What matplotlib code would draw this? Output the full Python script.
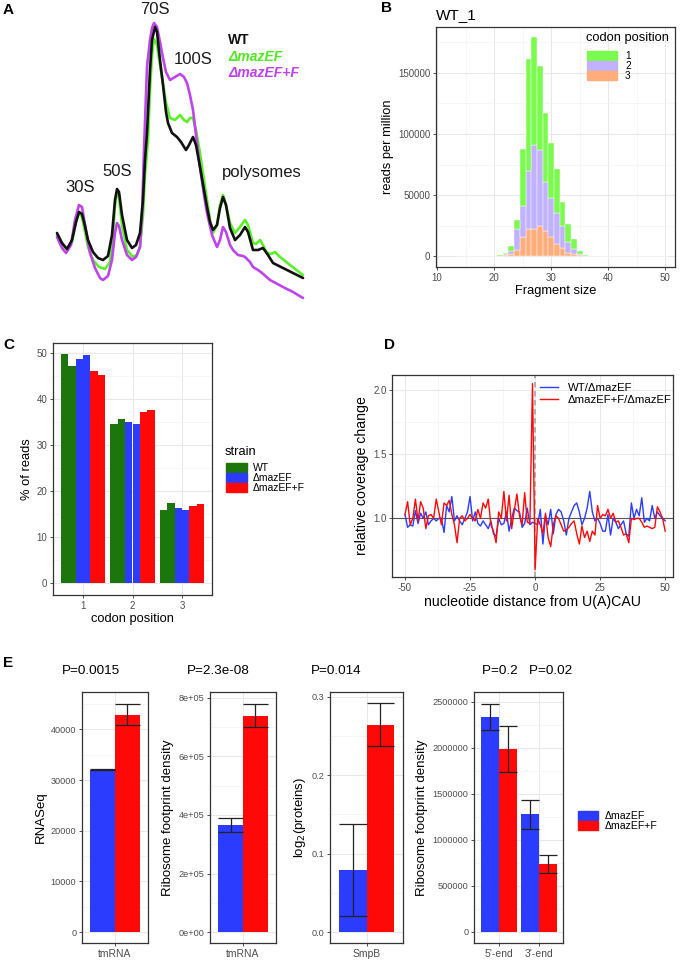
import numpy as np
import matplotlib
matplotlib.use('Agg')
import matplotlib.pyplot as plt
from matplotlib.patches import Patch
from matplotlib.lines import Line2D
from matplotlib.ticker import MultipleLocator, FormatStrFormatter, FuncFormatter

plt.rcParams['font.family'] = ['Liberation Sans', 'DejaVu Sans']
plt.rcParams['axes.unicode_minus'] = False

# ---------------- data ----------------
# A: sucrose gradient profiles (position along gradient, absorbance), traced
wt_pos = [57, 62, 67, 72, 76, 79, 82, 85, 88, 93, 98, 103, 108, 112, 115, 117, 119, 122, 127, 132, 136, 140, 143, 145, 147, 150, 152, 155, 157, 160, 163, 166, 168, 172, 177, 181, 186, 189, 193, 196, 200, 204, 207, 210, 213, 217, 220, 223, 226, 230, 235, 240, 245, 248, 253, 258, 263, 268, 273, 283, 293, 303]
wt_abs = [233, 243, 249, 240, 222, 212, 214, 226, 240, 252, 258, 260, 256, 235, 200, 189, 192, 215, 240, 248, 245, 233, 200, 160, 133, 70, 40, 27, 32, 60, 85, 112, 123, 133, 137, 142, 150, 145, 137, 145, 167, 190, 207, 222, 230, 225, 208, 197, 205, 228, 240, 235, 227, 232, 250, 250, 248, 255, 263, 268, 273, 278]
dm_pos = [57, 62, 67, 72, 76, 79, 82, 85, 88, 93, 99, 105, 110, 113, 115, 117, 119, 122, 127, 133, 137, 140, 143, 145, 148, 150, 152, 154, 157, 160, 163, 166, 170, 175, 180, 184, 187, 190, 193, 196, 200, 204, 207, 210, 213, 217, 220, 223, 226, 230, 235, 240, 245, 248, 253, 256, 260, 263, 267, 271, 275, 280, 290, 303]
dm_abs = [235, 245, 249, 242, 222, 213, 217, 232, 247, 260, 267, 269, 262, 235, 205, 193, 197, 225, 250, 257, 255, 247, 215, 175, 140, 90, 55, 39, 45, 65, 83, 103, 118, 120, 115, 120, 122, 118, 118, 130, 153, 180, 200, 220, 233, 225, 205, 195, 205, 223, 233, 227, 220, 225, 243, 244, 240, 245, 253, 254, 252, 257, 265, 275]
df_pos = [57, 62, 66, 71, 75, 79, 82, 85, 90, 95, 100, 103, 108, 112, 115, 117, 119, 122, 127, 132, 136, 140, 142, 144, 147, 150, 152, 154, 157, 160, 163, 166, 170, 175, 180, 184, 187, 190, 193, 196, 200, 204, 207, 212, 217, 220, 223, 226, 230, 233, 238, 243, 245, 250, 253, 258, 262, 270, 283, 293, 303]
df_abs = [237, 248, 253, 245, 220, 205, 207, 225, 253, 268, 278, 280, 276, 260, 233, 223, 226, 240, 255, 260, 257, 247, 215, 150, 67, 40, 28, 23, 27, 42, 58, 72, 80, 77, 74, 77, 83, 95, 110, 135, 167, 195, 213, 235, 247, 240, 227, 232, 245, 250, 255, 256, 257, 262, 267, 270, 273, 280, 287, 292, 298]

# B: fragment size distribution, WT_1, reads per million by codon position
frag_size = list(range(14, 51))
rpm_pos1 = [100, 100, 100, 100, 150, 200, 300, 400, 1000, 4000, 8000, 47000, 91000, 88000, 69000, 56500, 45000, 35500, 19500, 14500, 8000, 2300, 700, 200, 150, 100, 100, 100, 100, 100, 100, 100, 100, 100, 100, 100, 100]
rpm_pos2 = [50, 50, 50, 50, 80, 100, 150, 200, 700, 2000, 16500, 25000, 47500, 68500, 62500, 40000, 32000, 25500, 18000, 8500, 4500, 1000, 300, 100, 80, 50, 50, 50, 50, 50, 50, 50, 50, 50, 50, 50, 50]
rpm_pos3 = [50, 50, 50, 50, 80, 100, 150, 200, 800, 2000, 5500, 16000, 22500, 22500, 24500, 20500, 16000, 10000, 6500, 3000, 1500, 700, 200, 100, 80, 50, 50, 50, 50, 50, 50, 50, 50, 50, 50, 50, 50]

# C: % of reads per codon position, two replicates per strain
codon_pos = [1, 2, 3]
strains = ['WT', 'ΔmazEF', 'ΔmazEF+F']
pct_wt_1 = [49.7, 34.5, 15.9]
pct_wt_2 = [47.2, 35.6, 17.3]
pct_dm_1 = [48.7, 35.0, 16.4]
pct_dm_2 = [49.5, 34.6, 15.9]
pct_df_1 = [46.2, 37.1, 16.8]
pct_df_2 = [45.2, 37.6, 17.2]

# D: relative coverage around U(A)CAU
dist = list(range(-50, 51))
wt_ratio = [1.03, 0.93, 0.95, 0.94, 1.06, 0.96, 1.04, 1.00, 1.05, 0.95, 0.98, 1.00, 0.98, 1.00, 1.00, 0.89, 1.10, 1.05, 1.17, 0.98,
            1.02, 0.98, 0.95, 1.00, 1.05, 1.17, 0.98, 1.05, 0.96, 0.94, 0.98, 0.95, 0.92, 0.98, 0.88, 0.86, 1.00, 0.95, 0.96, 1.05,
            0.90, 1.00, 1.08, 1.06, 1.05, 0.93, 0.96, 1.08, 0.95, 0.97, 0.96, 0.95, 1.07, 0.80, 1.02, 0.95, 1.07, 0.88, 1.03, 1.07,
            1.05, 0.98, 0.87, 1.00, 1.05, 1.10, 1.12, 1.05, 0.95, 1.00, 1.08, 1.21, 1.05, 0.98, 1.00, 0.96, 0.90, 0.90, 1.03, 0.87,
            1.00, 0.97, 0.92, 0.95, 0.98, 0.88, 0.86, 1.12, 1.00, 1.07, 1.02, 1.16, 0.97, 1.00, 0.98, 1.10, 1.00, 1.05, 1.02, 1.00,
            0.98]
df_ratio = [1.03, 1.13, 0.95, 1.00, 1.15, 0.98, 1.13, 1.08, 0.92, 1.02, 1.03, 1.00, 1.15, 1.05, 0.95, 1.12, 1.10, 1.14, 1.03, 0.95,
            0.81, 1.00, 1.02, 0.98, 1.00, 1.03, 1.00, 0.98, 1.07, 1.00, 1.12, 1.08, 1.15, 0.95, 0.90, 0.81, 1.05, 1.00, 1.21, 0.98,
            1.18, 0.92, 1.06, 1.19, 1.02, 0.95, 1.20, 0.97, 0.96, 2.05, 0.60, 1.00, 0.95, 0.88, 1.04, 0.85, 0.78, 0.95, 1.02, 1.00,
            0.95, 0.90, 0.91, 0.93, 0.96, 0.98, 0.88, 0.80, 0.94, 0.85, 0.90, 0.82, 0.90, 0.87, 1.10, 1.00, 1.03, 1.02, 1.07, 1.00,
            1.04, 0.97, 0.98, 0.93, 0.87, 0.88, 0.81, 1.00, 0.99, 1.00, 1.00, 0.97, 0.93, 0.94, 0.93, 0.92, 0.93, 1.09, 1.05, 1.00,
            0.90]

# E: tmRNA / SmpB measurements, mean with lower and upper error
rnaseq_mean = [32000, 42900]
rnaseq_lo = [31900, 40800]
rnaseq_hi = [32100, 45000]
fp_mean = [365000, 740000]
fp_lo = [343000, 702000]
fp_hi = [391000, 781000]
smpb_mean = [0.079, 0.264]
smpb_lo = [0.021, 0.237]
smpb_hi = [0.138, 0.292]
ends = ["5'-end", "3'-end"]
end_dm_mean = [2330000, 1277000]
end_dm_lo = [2190000, 1118000]
end_dm_hi = [2480000, 1430000]
end_df_mean = [1986000, 735000]
end_df_lo = [1740000, 643000]
end_df_hi = [2235000, 835000]

GREEN_B, LAV_B, ORANGE_B = '#7CFB4F', '#C1B2FF', '#FFAE7B'
C_WT, C_DM, C_DF = '#1D760C', '#2B3CFF', '#FF0808'

fig = plt.figure(figsize=(6.8, 9.6), dpi=100)


def rect(l, t, r, b):
    return [l / 680, 1 - b / 960, (r - l) / 680, (b - t) / 960]


def fx(x, y):
    return (x / 680, 1 - y / 960)


def gg(ax, lsize=7.0):
    for s in ax.spines.values():
        s.set_color('#333333')
        s.set_linewidth(0.9)
    ax.grid(True, which='major', color='#E8E8E8', lw=0.75)
    ax.grid(True, which='minor', color='#F3F3F3', lw=0.5)
    ax.set_axisbelow(True)
    ax.tick_params(which='major', length=2.5, width=0.6, color='#333333',
                   labelsize=lsize, labelcolor='#4D4D4D', pad=1.5)
    ax.tick_params(which='minor', length=0)


def label(x, y, s):
    fig.text(*fx(x, y), s, fontsize=11, fontweight='bold', ha='left', va='center')


LEG = dict(loc='upper left', frameon=False, borderpad=0, borderaxespad=0, labelspacing=0.0)

# ---------------- A ----------------
axA = fig.add_axes(rect(0, 0, 340, 305))
axA.set_xlim(0, 340)
axA.set_ylim(0, 305)
axA.axis('off')
kw = dict(lw=1.9, solid_joinstyle='round', solid_capstyle='round')
axA.plot(dm_pos, 305 - np.array(dm_abs), color='#5CF02A', **kw)
axA.plot(df_pos, 305 - np.array(df_abs), color='#BE45EC', **kw)
axA.plot(wt_pos, 305 - np.array(wt_abs), color='#111111', **kw)
for x, y, s in [(80, 188, '30S'), (117, 172, '50S'), (155, 10, '70S'), (193, 59, '100S'), (262, 173, 'polysomes')]:
    axA.text(x, 305 - y, s, fontsize=12, ha='center', va='center', color='#1a1a1a')
axA.text(228, 305 - 40, 'WT', fontsize=10, fontweight='bold', color='#111111', va='center')
axA.text(228, 305 - 57, 'ΔmazEF', fontsize=10, fontweight='bold', style='italic', color='#4FEA1E', va='center')
axA.text(228, 305 - 73, 'ΔmazEF+F', fontsize=10, fontweight='bold', style='italic', color='#C040EE', va='center')
label(3, 10, 'A')

# ---------------- B ----------------
axB = fig.add_axes(rect(436, 27, 675, 267))
gg(axB)
p3 = np.array(rpm_pos3)
p2 = np.array(rpm_pos2)
p1 = np.array(rpm_pos1)
axB.bar(frag_size, p3, width=1, color=ORANGE_B, edgecolor='white', lw=0.3)
axB.bar(frag_size, p2, bottom=p3, width=1, color=LAV_B, edgecolor='white', lw=0.3)
axB.bar(frag_size, p1, bottom=p3 + p2, width=1, color=GREEN_B, edgecolor='white', lw=0.3)
axB.set_xlim(9.8, 51.7)
axB.set_ylim(-8800, 187500)
axB.xaxis.set_major_locator(MultipleLocator(10))
axB.xaxis.set_minor_locator(MultipleLocator(5))
axB.yaxis.set_major_locator(MultipleLocator(50000))
axB.yaxis.set_minor_locator(MultipleLocator(25000))
axB.set_xlabel('Fragment size', fontsize=9.3, labelpad=1.5)
axB.set_ylabel('reads per million', fontsize=9.3, labelpad=3)
axB.set_title('WT_1', fontsize=11, loc='left', pad=6)
fig.text(*fx(586, 38), 'codon position', fontsize=9.3, ha='left', va='center')
fig.legend([Patch(color=GREEN_B), Patch(color=LAV_B), Patch(color=ORANGE_B)], ['1', '2', '3'],
           bbox_to_anchor=fx(587, 51), fontsize=7.2, handlelength=3.0, handleheight=1.0,
           handletextpad=0.8, **LEG)
label(381, 8, 'B')

# ---------------- C ----------------
axC = fig.add_axes(rect(53, 343, 212, 595))
gg(axC)
w = 0.15
reps = [(pct_wt_1, C_WT), (pct_wt_2, C_WT), (pct_dm_1, C_DM), (pct_dm_2, C_DM), (pct_df_1, C_DF), (pct_df_2, C_DF)]
for i, (vals, col) in enumerate(reps):
    axC.bar(np.array(codon_pos) + (i - 2.5) * w, vals, width=w, color=col, lw=0)
axC.set_xlim(0.395, 3.605)
axC.set_ylim(-2.6, 52.2)
axC.set_xticks(codon_pos)
axC.yaxis.set_major_locator(MultipleLocator(10))
axC.yaxis.set_minor_locator(MultipleLocator(5))
axC.set_xlabel('codon position', fontsize=9.3, labelpad=1.5)
axC.set_ylabel('% of reads', fontsize=9.3, labelpad=3)
fig.text(*fx(225, 452), 'strain', fontsize=9.3, ha='left', va='center')
fig.legend([Patch(color=C_WT), Patch(color=C_DM), Patch(color=C_DF)], strains,
           bbox_to_anchor=fx(226, 463), fontsize=7.5, handlelength=2.0, handleheight=0.95,
           handletextpad=0.6, **LEG)
label(3, 345, 'C')

# ---------------- D ----------------
axD = fig.add_axes(rect(392, 375, 673, 577))
gg(axD)
axD.axhline(1.0, color='#555555', lw=0.8)
axD.axvline(0, color='#AAAAAA', lw=1.3, ls=(0, (3, 2)))
axD.plot(dist, wt_ratio, color=C_DM, lw=1.0)
axD.plot(dist, df_ratio, color=C_DF, lw=1.0)
axD.set_xlim(-55, 53)
axD.set_ylim(0.543, 2.117)
axD.xaxis.set_major_locator(MultipleLocator(25))
axD.xaxis.set_minor_locator(MultipleLocator(12.5))
axD.yaxis.set_major_locator(MultipleLocator(0.5))
axD.yaxis.set_minor_locator(MultipleLocator(0.25))
axD.yaxis.set_major_formatter(FormatStrFormatter('%.1f'))
axD.set_xlabel('nucleotide distance from U(A)CAU', fontsize=10.2, labelpad=1.5)
axD.set_ylabel('relative coverage change', fontsize=10.2, labelpad=3)
fig.legend([Line2D([], [], color=C_DM, lw=1.0), Line2D([], [], color=C_DF, lw=1.0)],
           ['WT/ΔmazEF', 'ΔmazEF+F/ΔmazEF'], bbox_to_anchor=fx(540, 383),
           fontsize=8.2, handlelength=1.6, handletextpad=0.85,
           **dict(LEG, labelspacing=0.2))
label(384, 345, 'D')

# ---------------- E ----------------
ET, EB = 692, 943


def ebars(ax, xs, lo, hi, half=0.225):
    xs = np.array(xs)
    ax.vlines(xs, lo, hi, color='#222222', lw=0.9)
    ax.hlines(lo, xs - half, xs + half, color='#222222', lw=0.9)
    ax.hlines(hi, xs - half, xs + half, color='#222222', lw=0.9)


def style_e(ax):
    gg(ax, 6.6)
    ax.tick_params(axis='x', labelsize=7.5)


def single(ax, cat, mean, lo, hi, ylim, ylab):
    style_e(ax)
    xs = [1 - 0.225, 1 + 0.225]
    ax.bar(xs, mean, width=0.45, color=[C_DM, C_DF], lw=0)
    ebars(ax, xs, lo, hi)
    ax.set_xlim(0.4, 1.6)
    ax.set_ylim(*ylim)
    ax.set_xticks([1])
    ax.set_xticklabels([cat])
    ax.set_ylabel(ylab, fontsize=9.5, labelpad=3)


axE1 = fig.add_axes(rect(82, ET, 148, EB))
single(axE1, 'tmRNA', rnaseq_mean, rnaseq_lo, rnaseq_hi, (-2170, 47400), 'RNASeq')
axE1.yaxis.set_major_locator(MultipleLocator(10000))
axE1.yaxis.set_minor_locator(MultipleLocator(5000))

axE2 = fig.add_axes(rect(210, ET, 276, EB))
single(axE2, 'tmRNA', fp_mean, fp_lo, fp_hi, (-37600, 820500), 'Ribosome footprint density')
axE2.yaxis.set_major_locator(MultipleLocator(200000))
axE2.yaxis.set_minor_locator(MultipleLocator(100000))
axE2.yaxis.set_major_formatter(FuncFormatter(lambda v, p: '%de+05' % round(v / 1e5) if v else '0e+00'))

axE3 = fig.add_axes(rect(330, ET, 403, EB))
single(axE3, 'SmpB', smpb_mean, smpb_lo, smpb_hi, (-0.014, 0.306), 'log$_2$(proteins)')
axE3.yaxis.set_major_locator(MultipleLocator(0.1))
axE3.yaxis.set_minor_locator(MultipleLocator(0.05))
axE3.yaxis.set_major_formatter(FormatStrFormatter('%.1f'))

axE4 = fig.add_axes(rect(474, ET, 563, EB))
style_e(axE4)
xpos = np.arange(1, len(ends) + 1)
axE4.bar(xpos - 0.225, end_dm_mean, width=0.45, color=C_DM, lw=0)
axE4.bar(xpos + 0.225, end_df_mean, width=0.45, color=C_DF, lw=0)
ebars(axE4, xpos - 0.225, end_dm_lo, end_dm_hi)
ebars(axE4, xpos + 0.225, end_df_lo, end_df_hi)
axE4.set_xlim(0.375, 2.6)
axE4.set_ylim(-120000, 2605000)
axE4.set_xticks(xpos)
axE4.set_xticklabels(ends)
axE4.yaxis.set_major_locator(MultipleLocator(500000))
axE4.yaxis.set_minor_locator(MultipleLocator(250000))
axE4.yaxis.set_major_formatter(FormatStrFormatter('%d'))
axE4.set_ylabel('Ribosome footprint density', fontsize=9.5, labelpad=3)

for x, s in [(91, 'P=0.0015'), (218, 'P=2.3e-08'), (336, 'P=0.014'), (527, 'P=0.2   P=0.02')]:
    fig.text(*fx(x, 671), s, fontsize=9.7, ha='center', va='center')

fig.legend([Patch(color=C_DM), Patch(color=C_DF)], ['ΔmazEF', 'ΔmazEF+F'],
           bbox_to_anchor=fx(578, 811), fontsize=7.6, handlelength=1.9,
           handleheight=0.95, handletextpad=0.6, **LEG)
label(3, 663, 'E')

fig.savefig('out.png', dpi=100, facecolor='white')
